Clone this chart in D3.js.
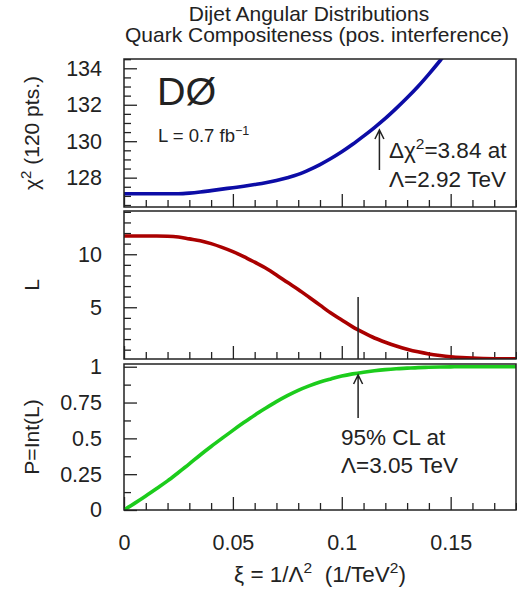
<!DOCTYPE html>
<html>
<head>
<meta charset="utf-8">
<script src="https://cdn.jsdelivr.net/npm/d3@7"></script>
<style>
  html, body { margin: 0; padding: 0; background: #fff; }
  svg { display: block; }
  text { font-family: "Liberation Sans", Arial, sans-serif; fill: #222; }
</style>
</head>
<body>
<svg id="chart" width="517" height="590"></svg>
<script>
// ---- data ----
const xi = [0, 0.005, 0.01, 0.015, 0.02, 0.025, 0.03, 0.035, 0.04, 0.045, 0.05, 0.055, 0.06, 0.065, 0.07, 0.075, 0.08, 0.085, 0.09, 0.095, 0.1, 0.105, 0.11, 0.115, 0.12, 0.125, 0.13, 0.135, 0.14, 0.145, 0.15, 0.155, 0.16, 0.165, 0.17, 0.175, 0.18];
const chi2 = [127.12, 127.12, 127.12, 127.12, 127.12, 127.12, 127.15, 127.21, 127.29, 127.37, 127.45, 127.53, 127.62, 127.72, 127.85, 128.0, 128.18, 128.43, 128.72, 129.05, 129.42, 129.83, 130.28, 130.75, 131.25, 131.80, 132.38, 133.0, 133.68, 134.4, 135.15, 135.95, 136.8, 137.7, 138.6, 139.6, 140.6];
const likelihood = [11.72, 11.72, 11.72, 11.72, 11.70, 11.62, 11.45, 11.28, 11.0, 10.65, 10.25, 9.78, 9.25, 8.7, 8.05, 7.35, 6.68, 5.95, 5.2, 4.45, 3.8, 3.15, 2.6, 2.1, 1.7, 1.35, 1.05, 0.8, 0.6, 0.45, 0.33, 0.25, 0.2, 0.17, 0.15, 0.14, 0.13];
const prob = [0, 0.048, 0.098, 0.15, 0.203, 0.262, 0.322, 0.384, 0.443, 0.5, 0.556, 0.61, 0.662, 0.71, 0.756, 0.798, 0.835, 0.866, 0.893, 0.915, 0.935, 0.95, 0.962, 0.972, 0.98, 0.986, 0.99, 0.994, 0.996, 0.998, 0.999, 1.0, 1.0, 1.0, 1.0, 1.0, 1.0];

const xTickValues = [0, 0.05, 0.1, 0.15];
const xTickLabels = ["0", "0.05", "0.1", "0.15"];
const chi2Ticks = [128, 130, 132, 134];
const likeTicks = [5, 10];
const probTicks = [0, 0.25, 0.5, 0.75, 1];
const probTickLabels = ["0", "0.25", "0.5", "0.75", "1"];

const lambdaChi2 = 2.92;   // TeV, delta chi2 = 3.84
const lambdaCL = 3.05;     // TeV, 95% CL

// ---- layout ----
const svg = d3.select("#chart");
const X0 = 124, X1 = 516;
const x = d3.scaleLinear().domain([0, 0.18]).range([X0, X1]);
const TICK_FS = 21.5;

const panels = [
  { top: 59, bottom: 207, domain: [126.39, 134.51], values: chi2, color: "#0c0ca6",
    major: chi2Ticks, labels: chi2Ticks.map(String), minorStep: 0.5 },
  { top: 211, bottom: 359, domain: [0.12, 14.08], values: likelihood, color: "#aa0000",
    major: likeTicks, labels: likeTicks.map(String), minorStep: 1 },
  { top: 364, bottom: 510, domain: [0, 1.019], values: prob, color: "#1ccc1c",
    major: probTicks, labels: probTickLabels, minorStep: 0.125 }
];

const defs = svg.append("defs");

panels.forEach((p, i) => {
  const y = d3.scaleLinear().domain(p.domain).range([p.bottom, p.top]);
  const g = svg.append("g");

  defs.append("clipPath").attr("id", "clip" + i)
    .append("rect").attr("x", X0).attr("y", p.top).attr("width", X1 - X0).attr("height", p.bottom - p.top);

  // x ticks (inward, on bottom edge)
  const minorX = d3.range(0, 0.1801, 0.01).filter(v => !xTickValues.some(t => Math.abs(t - v) < 1e-9));
  g.append("g").attr("transform", `translate(0,${p.bottom})`)
    .call(d3.axisBottom(x).tickValues(minorX).tickSize(-7).tickFormat(""))
    .call(a => a.select(".domain").remove());
  const xa = g.append("g").attr("transform", `translate(0,${p.bottom})`)
    .call(d3.axisBottom(x).tickValues(xTickValues).tickSize(-13)
      .tickFormat((d, k) => i === 2 ? xTickLabels[k] : "").tickPadding(25))
    .call(a => a.select(".domain").remove());
  xa.selectAll("text").attr("font-size", TICK_FS).attr("font-family", "Liberation Sans, Arial, sans-serif").attr("fill", "#222");

  // y ticks (inward, on left edge)
  const minorY = [];
  const lo = Math.ceil(p.domain[0] / p.minorStep) * p.minorStep;
  for (let v = lo; v <= p.domain[1] + 1e-9; v += p.minorStep) {
    if (!p.major.some(t => Math.abs(t - v) < 1e-9)) minorY.push(v);
  }
  g.append("g").attr("transform", `translate(${X0},0)`)
    .call(d3.axisLeft(y).tickValues(minorY).tickSize(-7).tickFormat(""))
    .call(a => a.select(".domain").remove());
  const ya = g.append("g").attr("transform", `translate(${X0},0)`)
    .call(d3.axisLeft(y).tickValues(p.major).tickSize(-13)
      .tickFormat((d, k) => p.labels[k]).tickPadding(22))
    .call(a => a.select(".domain").remove());
  ya.selectAll("text").attr("font-size", TICK_FS).attr("font-family", "Liberation Sans, Arial, sans-serif").attr("fill", "#222");

  g.selectAll(".tick line").attr("stroke", "#222").attr("stroke-width", 1.3);

  // curve
  const line = d3.line().x((d, k) => x(xi[k])).y(d => y(d)).curve(d3.curveMonotoneX);
  g.append("path").datum(p.values)
    .attr("clip-path", `url(#clip${i})`)
    .attr("d", line)
    .attr("fill", "none").attr("stroke", p.color).attr("stroke-width", 3.6);

  // frame
  g.append("rect").attr("x", X0).attr("y", p.top).attr("width", X1 - X0).attr("height", p.bottom - p.top)
    .attr("fill", "none").attr("stroke", "#222").attr("stroke-width", 1.5);
});

// ---- titles ----
svg.append("text").attr("x", 309).attr("y", 21).attr("text-anchor", "middle")
  .attr("font-size", 21).text("Dijet Angular Distributions");
svg.append("text").attr("x", 317).attr("y", 42).attr("text-anchor", "middle")
  .attr("font-size", 21).text("Quark Compositeness (pos. interference)");

// y-axis titles
function yTitle(cy, build) {
  const t = svg.append("text").attr("transform", `translate(39,${cy}) rotate(-90)`)
    .attr("text-anchor", "middle").attr("font-size", 21);
  build(t);
}
yTitle((panels[0].top + panels[0].bottom) / 2, t => {
  t.append("tspan").text("χ");
  t.append("tspan").attr("dy", -8).attr("font-size", 15).text("2");
  t.append("tspan").attr("dy", 8).text(" (120 pts.)");
});
yTitle((panels[1].top + panels[1].bottom) / 2, t => t.text("L"));
yTitle((panels[2].top + panels[2].bottom) / 2, t => t.text("P=Int(L)"));

// x-axis title
const xt = svg.append("text").attr("x", (X0 + X1) / 2).attr("y", 582).attr("text-anchor", "middle")
  .attr("font-size", 22.5).style("white-space", "pre");
xt.append("tspan").text("ξ = 1/Λ");
xt.append("tspan").attr("dy", -9).attr("font-size", 15.5).text("2");
xt.append("tspan").attr("dy", 9).text("  (1/TeV");
xt.append("tspan").attr("dy", -9).attr("font-size", 15.5).text("2");
xt.append("tspan").attr("dy", 9).text(")");

// ---- top panel annotations ----
svg.append("text").attr("x", 157).attr("y", 105).attr("font-size", 39.5).text("DØ");
const lt = svg.append("text").attr("x", 158).attr("y", 141.5).attr("font-size", 18.5);
lt.append("tspan").text("L = 0.7 fb");
lt.append("tspan").attr("dy", -7).attr("font-size", 12.5).text("−1");

function arrow(xPos, yFrom, yTo) {
  svg.append("path")
    .attr("d", `M${xPos},${yFrom}L${xPos},${yTo}M${xPos - 4.5},${yTo + 9}L${xPos},${yTo}L${xPos + 4.5},${yTo + 9}`)
    .attr("fill", "none").attr("stroke", "#222").attr("stroke-width", 1.5);
}
const xa1 = x(1 / (lambdaChi2 * lambdaChi2));
arrow(xa1, 170, 130);
const a1 = svg.append("text").attr("x", 389).attr("y", 158).attr("font-size", 22.5);
a1.append("tspan").text("Δχ");
a1.append("tspan").attr("dy", -9).attr("font-size", 15.5).text("2");
a1.append("tspan").attr("dy", 9).text("=3.84 at");
svg.append("text").attr("x", 389).attr("y", 186.5).attr("font-size", 22.5).text("Λ=2.92 TeV");

// ---- middle panel marker ----
const xcl = x(1 / (lambdaCL * lambdaCL));
svg.append("line").attr("x1", xcl).attr("x2", xcl).attr("y1", 297).attr("y2", panels[1].bottom)
  .attr("stroke", "#222").attr("stroke-width", 1.5);

// ---- bottom panel annotations ----
arrow(xcl, 418, 375);
svg.append("text").attr("x", 341).attr("y", 445).attr("font-size", 22.5).text("95% CL at");
svg.append("text").attr("x", 341).attr("y", 473).attr("font-size", 22.5).text("Λ=3.05 TeV");
</script>
</body>
</html>
